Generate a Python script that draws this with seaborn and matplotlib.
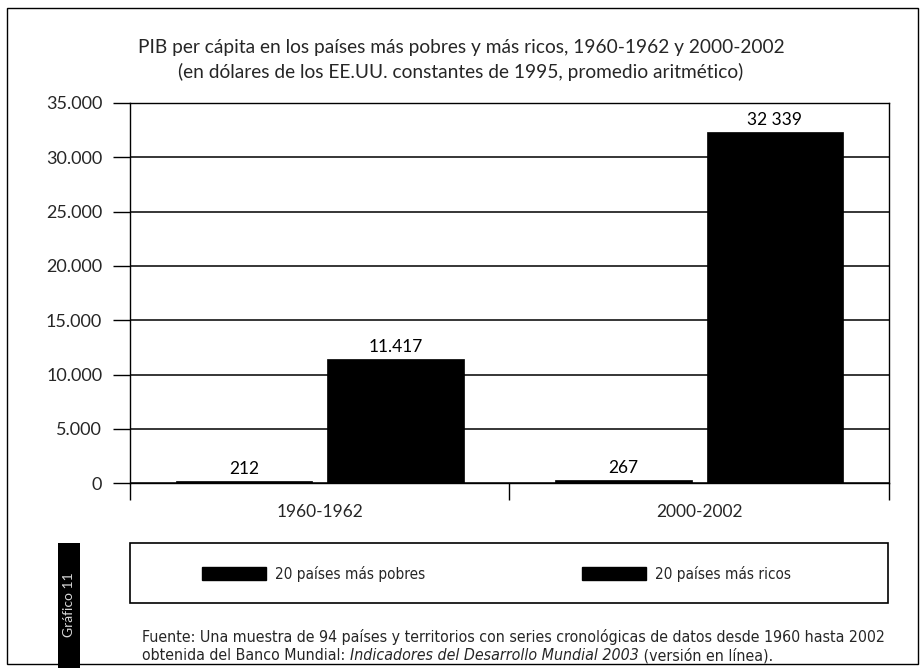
import matplotlib
matplotlib.use('Agg')
import matplotlib.pyplot as plt
from matplotlib.patches import Rectangle, Patch
from matplotlib.ticker import FuncFormatter
import pandas as pd
import seaborn as sns

# data
periodos = ['1960-1962', '2000-2002']
grupos = ['20 países más pobres', '20 países más ricos']
pib_pobres = [212, 267]
pib_ricos = [11417, 32339]
etiquetas_pobres = ['212', '267']
etiquetas_ricos = ['11.417', '32 339']
yticks = [0, 5000, 10000, 15000, 20000, 25000, 30000, 35000]

titulo = ('PIB per cápita en los países más pobres y más ricos, 1960-1962 y 2000-2002\n'
          '(en dólares de los EE.UU. constantes de 1995, promedio aritmético)')
fuente1 = 'Fuente: Una muestra de 94 países y territorios con series cronológicas de datos desde 1960 hasta 2002'
fuente2a = 'obtenida del Banco Mundial: '
fuente2b = 'Indicadores del Desarrollo Mundial 2003'
fuente2c = ' (versión en línea).'

df = pd.DataFrame({
    'periodo': periodos * 2,
    'grupo': [grupos[0]] * 2 + [grupos[1]] * 2,
    'pib': pib_pobres + pib_ricos,
})

sns.set_style('white')
plt.rcParams['font.family'] = ['Lato', 'DejaVu Sans']

fig = plt.figure(figsize=(9.22, 6.71), dpi=100)
ax = fig.add_axes([0.141, 0.280, 0.823, 0.5665])

sns.barplot(data=df, x='periodo', y='pib', hue='grupo', hue_order=grupos,
            palette=['black', 'black'], width=0.8, gap=0.1, ax=ax,
            legend=False, saturation=1, edgecolor='black', linewidth=0.5)

for cont, labs in zip(ax.containers, [etiquetas_pobres, etiquetas_ricos]):
    ax.bar_label(cont, labels=labs, padding=3, fontsize=12.5, color='black')

ax.set_ylim(0, 35000)
ax.set_xlim(-0.5, 1.5)
ax.set_yticks(yticks)
ax.yaxis.set_major_formatter(FuncFormatter(lambda v, p: f'{v:,.0f}'.replace(',', '.')))
ax.yaxis.grid(True, color='black', linewidth=1.1)
ax.set_axisbelow(True)
ax.set_xlabel('')
ax.set_ylabel('')
ax.set_xticks([0, 1])
ax.set_xticklabels(periodos)
ax.set_xticks([-0.5, 0.5, 1.5], minor=True)
ax.tick_params(axis='x', which='major', length=0, pad=15, labelsize=12.5)
ax.tick_params(axis='x', which='minor', length=12, width=1, color='black', direction='out', bottom=True)
ax.tick_params(axis='y', length=12, width=1, color='black', direction='out', left=True, labelsize=13, pad=8)
for s in ax.spines.values():
    s.set_color('black')
    s.set_linewidth(1)
    s.set_visible(True)

fig.text(0.5, 0.91, titulo, ha='center', va='center', fontsize=13.8, linespacing=1.45)

# legend box with one entry per series
fig.patches.append(Rectangle((130 / 922, 1 - 603 / 671), 758 / 922, 60 / 671,
                             transform=fig.transFigure, fill=False, edgecolor='black', linewidth=1.2))
leg_font = {'family': ['DejaVu Sans'], 'stretch': 'condensed', 'size': 11}
for g, x0 in zip(grupos, [188, 568]):
    fig.legend(handles=[Patch(facecolor='black', edgecolor='black', label=g)],
               loc='center left', bbox_to_anchor=(x0 / 922, 1 - 574 / 671),
               frameon=False, handlelength=4.2, handleheight=0.9, handletextpad=0.6,
               prop=leg_font)

fnt = {'family': ['DejaVu Sans'], 'stretch': 'condensed', 'size': 11.4}
fig.text(142 / 922, 1 - 637 / 671, fuente1, ha='left', va='center', fontdict=fnt)
t1 = fig.text(142 / 922, 1 - 656 / 671, fuente2a, ha='left', va='center', fontdict=fnt)
fig.canvas.draw()
bb = t1.get_window_extent()
t2 = fig.text(bb.x1 / 922, 1 - 656 / 671, fuente2b, ha='left', va='center', fontdict=fnt, style='italic')
fig.canvas.draw()
bb = t2.get_window_extent()
fig.text(bb.x1 / 922, 1 - 656 / 671, fuente2c, ha='left', va='center', fontdict=fnt)

# side tab and outer frame
fig.patches.append(Rectangle((58 / 922, 1 - 668 / 671), 22 / 922, 125 / 671,
                             transform=fig.transFigure, facecolor='black', edgecolor='none'))
fig.text(69 / 922, 1 - 605 / 671, 'Gráfico 11', rotation=90, ha='center', va='center',
         color='#d8d8d8', fontsize=10)
fig.patches.append(Rectangle((7 / 922, 1 - 664 / 671), 911 / 922, 656 / 671,
                             transform=fig.transFigure, fill=False, edgecolor='black', linewidth=1))

fig.savefig('out.png', dpi=100)
